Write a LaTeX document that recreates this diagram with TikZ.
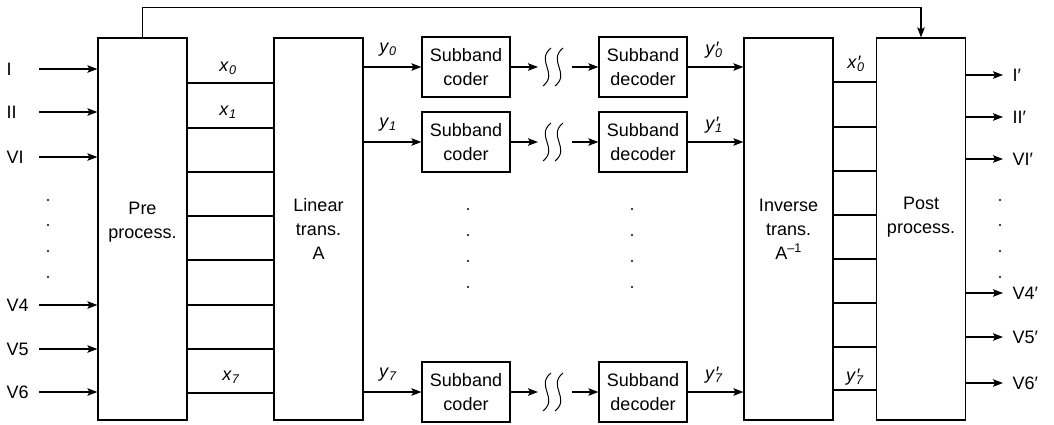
\documentclass[tikz,border=0pt]{standalone}
\usepackage{fontspec}
\setmainfont{Liberation Sans}
\usetikzlibrary{arrows.meta}

% signal names: plain and primed, italic with italic index
\newcommand{\sgn}[2]{\textit{#1}\textsubscript{\textit{#2}}}
\newcommand{\psgn}[2]{\textit{#1}\rlap{\textit{′}}\textsubscript{\textit{#2}}}

\begin{document}
\begin{tikzpicture}[x=1pt, y=-1pt, line width=1.2pt,
  >={Stealth[length=10pt,width=7.5pt,inset=2pt]},
  every node/.style={font=\fontsize{18}{24}\selectfont},
  bigbox/.style={draw, minimum width=89pt, minimum height=382pt, inner sep=0pt},
  bandbox/.style={draw, minimum width=88pt, minimum height=60pt, inner sep=0pt, align=center},
  boxtext/.style={align=center, inner sep=0pt},
  lbl/.style={inner sep=0pt},
  wave/.style={line width=1pt},
  dot/.style={fill=black}]
\useasboundingbox (0,0) rectangle (1054,424);

% main processing blocks
\node[bigbox] (pre)  at (142.5,229) {};
\node[bigbox] (lin)  at (318.5,229) {};
\node[bigbox] (inv)  at (788.5,229) {};
\node[bigbox] (post) at (921,229) {};
\node[boxtext] (pretxt)  at (142.5,222) {Pre\\process.};
\node[boxtext] (lintxt)  at (318.5,229) {Linear\\trans.\\A};
\node[boxtext] (invtxt)  at (788.5,229) {Inverse\\trans.\\A\textsuperscript{–1}};
\node[boxtext] (posttxt) at (921,217) {Post\\process.};

% side information path
\draw[->] (pre.north) -- ++(0,-30) -| (post.north);

% inputs
\foreach \y/\t [count=\i] in {69/I,112/II,157/VI,305/V4,349/V5,392/V6}{
  \node[lbl, anchor=west] (in\i) at (6,\y) {\t};
  \coordinate (s\i) at (39,\y);
  \draw[->] (s\i) -- (s\i -| pre.west);
}
% outputs
\foreach \y/\t [count=\i] in {75/I′,117/II′,159/VI′,293/V4′,337/V5′,383/V6′}{
  \coordinate (e\i) at (1003,\y);
  \draw[->] (e\i -| post.east) -- (e\i);
  \node[lbl, anchor=west] (out\i) at (1012,\y) {\t};
}

% channel lines between the transform blocks
\foreach \y [count=\i] in {83,128,172,216,260,305,349,393}{
  \coordinate (l\i) at (0,\y);
  \draw (pre.east |- l\i) -- (lin.west |- l\i);
}
\foreach \y [count=\i] in {82,127,171,215,259,303,347,390}{
  \coordinate (r\i) at (0,\y);
  \draw (inv.east |- r\i) -- (post.west |- r\i);
}
\node[lbl] (x0) at (228,68)  {\sgn{x}{0}};
\node[lbl] (x1) at (228,112) {\sgn{x}{1}};
\node[lbl] (x7) at (231,377) {\sgn{x}{7}};
\node[lbl] (xp0) at (856,64)  {\psgn{x}{0}};
\node[lbl] (yp7r) at (855,377) {\psgn{y}{7}};

% subband coding chains, with the channel break between coder and decoder
\foreach \y/\k [count=\i] in {67/0,142/1,392/7}{
  \node[bandbox] (cod\i) at (466,\y) {Subband\\coder};
  \node[bandbox] (dec\i) at (643,\y) {Subband\\decoder};
  \coordinate (w\i) at (538,\y);
  \coordinate (v\i) at (572,\y);
  \draw[->] (lin.east |- cod\i) -- (cod\i.west);
  \draw[->] (cod\i.east) -- (w\i);
  \draw[wave] (551,\y-19) .. controls (535,\y-6) and (559,\y+6) .. (543,\y+19);
  \draw[wave] (563,\y-19) .. controls (547,\y-6) and (571,\y+6) .. (555,\y+19);
  \draw[->] (v\i) -- (dec\i.west);
  \draw[->] (dec\i.east) -- (dec\i.east -| inv.west);
  \node[lbl] (ya\i) at (388,\y-17) {\sgn{y}{\k}};
  \node[lbl] (yb\i) at (714,\y-17) {\psgn{y}{\k}};
}

% ellipsis dots
\foreach \y in {200,225,251,277}{
  \fill[dot] (48,\y) circle[radius=1.1pt];
  \fill[dot] (1000,\y) circle[radius=1.1pt];
}
\foreach \y in {209,235,261,287}{
  \fill[dot] (468,\y) circle[radius=1.1pt];
  \fill[dot] (632,\y) circle[radius=1.1pt];
}
\end{tikzpicture}
\end{document}
